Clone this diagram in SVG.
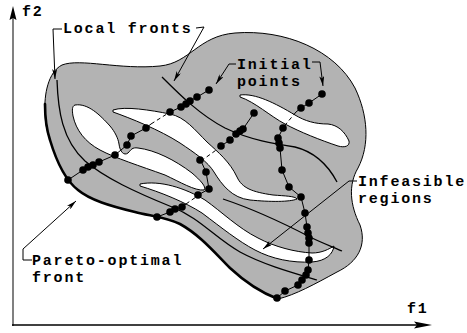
<svg xmlns="http://www.w3.org/2000/svg" width="467" height="333" viewBox="0 0 467 333">
<style>
.region{fill:#b3b3b3;stroke:#000;stroke-width:1}
.hole{fill:#fff;stroke:#000;stroke-width:1}
.front{fill:none;stroke:#000;stroke-width:1.3}
.pareto{fill:none;stroke:#000;stroke-width:2.6;stroke-linecap:round}
.chain{fill:none;stroke:#000;stroke-width:1}
.dash{fill:none;stroke:#000;stroke-width:1;stroke-dasharray:4 3}
.dot{fill:#000}
.lbl{font-family:"Liberation Mono","Courier New",monospace;font-weight:bold;font-size:15px;letter-spacing:1.8px;fill:#000}
.lead{fill:none;stroke:#000;stroke-width:1;marker-end:url(#ah)}
</style>
<defs>
<marker id="ah" viewBox="0 0 10 5" refX="10" refY="2.5" markerWidth="10" markerHeight="5" markerUnits="userSpaceOnUse" orient="auto"><path d="M0,0 L10,2.5 L0,5 L2.5,2.5 z" fill="#000"/></marker>
</defs>
<rect width="467" height="333" fill="#fff"/>
<g id="axes">
<line x1="13" y1="326" x2="13" y2="16" stroke="#808080" stroke-width="2"/>
<path d="M13,6 L16.5,20 L13,18 L9.5,20 z" fill="#000"/>
<line x1="12" y1="325" x2="420" y2="325" stroke="#000" stroke-width="1.5"/>
<path d="M432,325 L414,321.5 L417,325 L414,328.5 z" fill="#000"/>
<text class="lbl" x="22" y="16">f2</text>
<text class="lbl" x="407" y="313">f1</text>
</g>
<g id="feasible-region">
<path class="region" d="M45,112 C44,95 48,72 62,65 C80,58 120,70 160,66 C190,63 198,36 235,33 C285,29 335,50 355,88 C368,115 370,145 358,168 C348,185 350,205 360,225 C367,245 358,262 337,272 C315,284 295,295 278,299 C262,293 245,282 230,268 C215,253 200,235 180,224 C165,217 150,216 135,212 C110,206 90,200 78,190 C65,180 56,160 50,140 C46,128 45,120 45,112 Z"/>
</g>
<g id="infeasible-regions">
<path class="hole" d="M75,105 C88,103 100,115 110,126 C115,132 118,138 119,144 C120,152 124,156 128,153 C131,150 132,147 138,148 C155,150 175,160 192,173 C200,180 207,187 204,190 C195,191 180,182 165,175 C140,166 115,158 100,150 C85,142 76,130 73,116 C72,110 72,106 75,105 Z"/>
<path class="hole" d="M113,110 C125,106 150,110 170,114 C185,117 195,130 207,142 C218,152 230,162 237,177 C242,188 252,192 273,195 C285,196 295,196 297,199 C290,202 270,202 250,200 C232,198 222,185 214,172 C208,162 195,153 180,143 C160,130 130,118 113,112 Z"/>
<path class="hole" d="M240,95 C255,93 275,103 295,115 C305,121 315,124 328,124 C338,125 345,132 349,141 C350,146 345,148 338,146 C320,140 300,132 285,124 C270,116 255,102 240,97 Z"/>
<path class="hole" d="M140,184 C160,180 185,188 205,200 C222,212 238,228 258,238 C275,247 295,252 312,253 C322,253 329,249 334,246 C333,254 326,261 312,262 C292,263 272,259 255,250 C238,241 222,228 202,213 C185,202 160,192 140,186 Z"/>
</g>
<g id="local-fronts">
<path class="front" d="M57,80 C58,110 62,140 85,161 C105,178 135,192 172,207 C200,218 215,238 240,252 C262,264 290,272 317,280"/>
<path class="front" d="M223,199 C250,208 285,224 310,237 C322,243 333,247 342,251"/>
<path class="front" d="M162,77 C180,95 200,115 225,128 C250,140 275,144 295,147 C315,152 328,165 337,182"/>
</g>
<g id="pareto-front">
<path class="pareto" d="M278,299 C262,293 245,282 230,268 C215,253 200,235 180,224 C165,217 150,216 135,212 C110,206 90,200 78,190 C65,180 56,160 50,140 C46,128 45,118 45,104"/>
</g>
<g id="connectors">
<polyline class="chain" points="68,180 83,170 88,167 93,165 99,162 115,155 127,145 131,136 146,128 151,124"/>
<line class="dash" x1="151" y1="124" x2="170" y2="112"/>
<polyline class="chain" points="170,112 181,107 186,104 190,101 197,97 209,90"/>
<polyline class="chain" points="157,217 170,212 175,209 182,207 186,204"/>
<line class="dash" x1="186" y1="204" x2="196" y2="197"/>
<polyline class="chain" points="196,197 198,195 209,189 206,172 201,161"/>
<line class="dash" x1="201" y1="161" x2="219" y2="148"/>
<polyline class="chain" points="219,148 221,146 230,140 236,134 240,131 243,129 254,113"/>
<polyline class="chain" points="322,94 309,103 301,108 296,112"/>
<line class="dash" x1="296" y1="112" x2="286" y2="124"/>
<polyline class="chain" points="286,124 283,128 278,138 279,143 280,148 282,170 289,187 301,197 305,213 307,227 308,233 309,238 309,243 309,260 308,270 306,275 302,280 298,285 285,291 277,298"/>
<polyline class="lead" points="62,29 53,29 55,79"/>
<polyline class="lead" points="196,28 204,27 174,81"/>
<polyline class="lead" points="236,64 229,64 216,84"/>
<polyline class="lead" points="312,62 320,62 323,86"/>
<polyline class="lead" points="357,181 349,181 263,249"/>
<polyline class="lead" points="32,260 23,260 23,249 76,201"/>
</g>
<g id="points" class="dot">
<circle cx="68" cy="180" r="3.8"/><circle cx="83" cy="170" r="3.8"/><circle cx="88" cy="167" r="3.8"/><circle cx="93" cy="165" r="3.8"/><circle cx="99" cy="162" r="3.8"/><circle cx="115" cy="155" r="3.8"/><circle cx="127" cy="145" r="3.8"/><circle cx="131" cy="136" r="3.8"/><circle cx="146" cy="128" r="3.8"/><circle cx="170" cy="112" r="3.8"/><circle cx="181" cy="107" r="3.8"/><circle cx="186" cy="104" r="3.8"/><circle cx="190" cy="101" r="3.8"/><circle cx="197" cy="97" r="3.8"/><circle cx="209" cy="90" r="3.8"/>
<circle cx="157" cy="217" r="3.8"/><circle cx="170" cy="212" r="3.8"/><circle cx="175" cy="209" r="3.8"/><circle cx="182" cy="207" r="3.8"/><circle cx="198" cy="195" r="3.8"/><circle cx="209" cy="189" r="3.8"/><circle cx="206" cy="172" r="3.8"/><circle cx="200" cy="160" r="3.8"/><circle cx="221" cy="146" r="3.8"/><circle cx="230" cy="140" r="3.8"/><circle cx="236" cy="134" r="3.8"/><circle cx="240" cy="131" r="3.8"/><circle cx="243" cy="129" r="3.8"/><circle cx="254" cy="113" r="3.8"/>
<circle cx="322" cy="94" r="3.8"/><circle cx="309" cy="103" r="3.8"/><circle cx="301" cy="108" r="3.8"/><circle cx="283" cy="128" r="3.8"/><circle cx="278" cy="138" r="3.8"/><circle cx="279" cy="143" r="3.8"/><circle cx="280" cy="148" r="3.8"/><circle cx="282" cy="170" r="3.8"/><circle cx="289" cy="187" r="3.8"/><circle cx="301" cy="197" r="3.8"/><circle cx="305" cy="213" r="3.8"/><circle cx="307" cy="227" r="3.8"/><circle cx="308" cy="233" r="3.8"/><circle cx="309" cy="238" r="3.8"/><circle cx="309" cy="243" r="3.8"/><circle cx="309" cy="260" r="3.8"/><circle cx="308" cy="270" r="3.8"/><circle cx="306" cy="275" r="3.8"/><circle cx="302" cy="280" r="3.8"/><circle cx="298" cy="285" r="3.8"/><circle cx="285" cy="291" r="3.8"/><circle cx="277" cy="298" r="3.8"/>
</g>
<g id="label-local-fronts"><text class="lbl" x="63" y="33">Local fronts</text></g>
<g id="label-initial-points"><text class="lbl" x="237" y="69">Initial</text><text class="lbl" x="237" y="86">points</text></g>
<g id="label-infeasible"><text class="lbl" x="358" y="186">Infeasible</text><text class="lbl" x="358" y="203">regions</text></g>
<g id="label-pareto"><text class="lbl" x="32" y="265">Pareto-optimal</text><text class="lbl" x="32" y="282">front</text></g>
</svg>
